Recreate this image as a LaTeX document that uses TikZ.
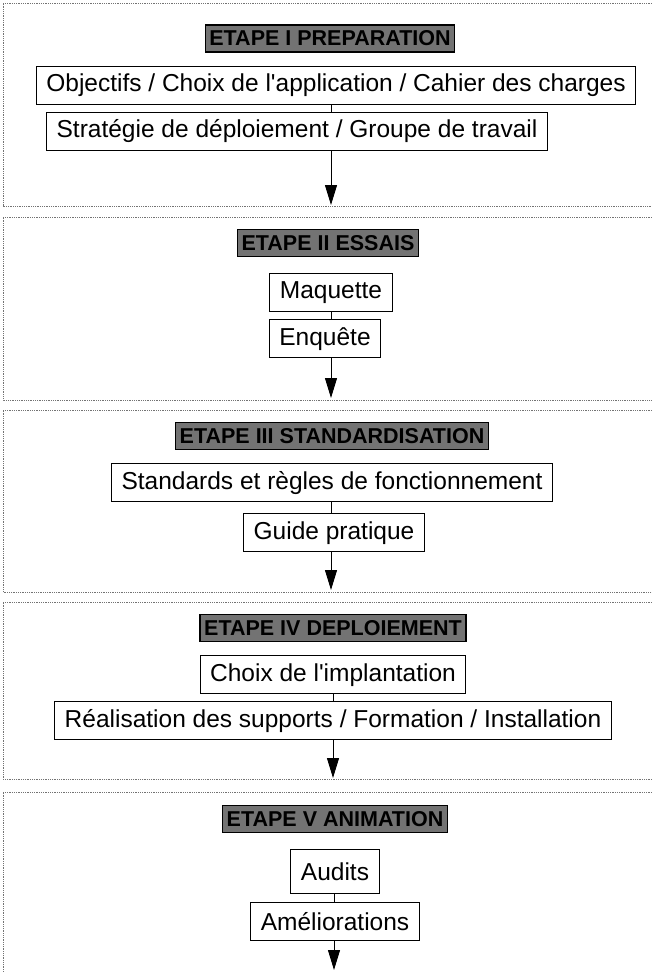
\documentclass[tikz,border=0pt]{standalone}
\usepackage{fontspec}
\setmainfont{Liberation Sans}[Ligatures=TeXOff]
\usetikzlibrary{positioning,arrows.meta}

\begin{document}
\begin{tikzpicture}[x=1pt,y=1pt,
		etape/.style={draw=black,
			line width=1.4pt,
			fill=black!55,
			font=\fontsize{21.5}{21.5}\selectfont\bfseries,
			minimum height=27pt,
			inner xsep=4pt
		},
		tache/.style={draw,
			line width=1pt,
			font=\fontsize{24.5}{24.5}\selectfont,
			minimum height=38pt,
			inner xsep=10pt
		},
		cadre/.style={draw=black!55, densely dotted, line width=0.8pt},
		fleche/.style={-{Triangle[length=20pt,width=12pt]}, line width=1pt}
	]
		\useasboundingbox (0,0) rectangle (652,-972);

		% les cinq cadres des etapes
		\draw[cadre] (652,-3) -- (3,-3) -- (3,-206) -- (652,-206);
		\draw[cadre] (652,-217) -- (3,-217) -- (3,-400) -- (652,-400);
		\draw[cadre] (652,-410) -- (3,-410) -- (3,-592) -- (652,-592);
		\draw[cadre] (652,-602) -- (3,-602) -- (3,-779) -- (652,-779);
		\draw[cadre] (652,-792) -- (3,-792) -- (3,-972);

		% etape I
		\node[etape] (e1) at (330,-38.5) {ETAPE I PREPARATION};
		\node[tache,
			below=13pt of e1,
			xshift=6pt
		] (obj) {Objectifs / Choix de l'application / Cahier des charges};
		\node[tache,
			below=7pt of obj,
			xshift=-39pt
		] (strat) {Stratégie de déploiement / Groupe de travail};
		\coordinate (f1) at (331,-205);

		% etape II
		\node[etape] (e2) at (328,-243) {ETAPE II ESSAIS};
		\node[tache,
			below=16pt of e2,
			xshift=3pt
		] (maq) {Maquette};
		\node[tache,
			below=7pt of maq,
			xshift=-6pt
		] (enq) {Enquête};
		\coordinate (f2) at (331,-398);

		% etape III
		\node[etape] (e3) at (332,-436) {ETAPE III STANDARDISATION};
		\node[tache,
			below=13pt of e3
		] (std) {Standards et règles de fonctionnement};
		\node[tache,
			below=11pt of std,
			xshift=2pt
		] (guide) {Guide pratique};
		\coordinate (f3) at (331,-590);

		% etape IV
		\node[etape] (e4) at (333,-628) {ETAPE IV DEPLOIEMENT};
		\node[tache,
			below=13pt of e4
		] (choix) {Choix de l'implantation};
		\node[tache,
			below=7pt of choix
		] (real) {Réalisation des supports / Formation / Installation};
		\coordinate (f4) at (333,-778);

		% etape V
		\node[etape] (e5) at (335,-819) {ETAPE V ANIMATION};
		\node[tache,
			below=16pt of e5,
			minimum height=44pt
		] (audits) {Audits};
		\node[tache,
			below=8pt of audits
		] (amel) {Améliorations};
		\coordinate (f5) at (334,-970);

		\draw (obj.south -| f1) -- (strat.north -| f1);
		\draw[fleche] (strat.south -| f1) -- (f1);
		\draw (maq.south -| f2) -- (enq.north -| f2);
		\draw[fleche] (enq.south -| f2) -- (f2);
		\draw (std.south -| f3) -- (guide.north -| f3);
		\draw[fleche] (guide.south -| f3) -- (f3);
		\draw (choix.south -| f4) -- (real.north -| f4);
		\draw[fleche] (real.south -| f4) -- (f4);
		\draw (audits.south -| f5) -- (amel.north -| f5);
		\draw[fleche] (amel.south -| f5) -- (f5);

	\end{tikzpicture}
\end{document}
